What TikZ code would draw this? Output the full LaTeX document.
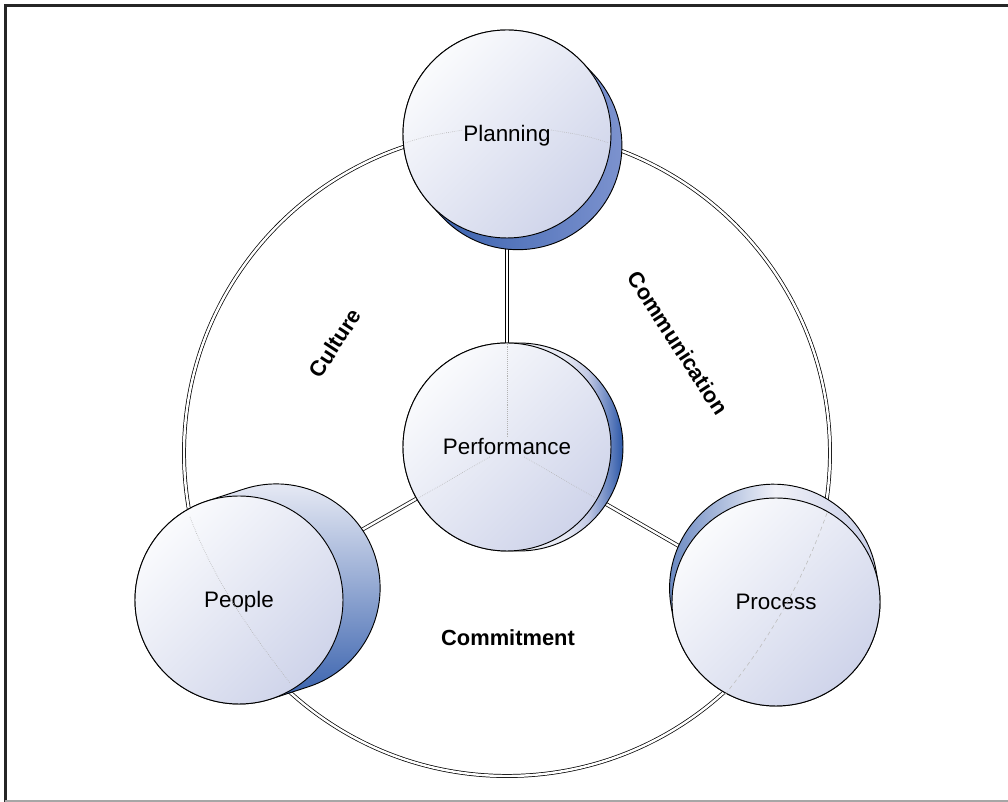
\documentclass[tikz,border=0pt]{standalone}
\usepackage{fontspec}
\setmainfont{Liberation Sans}
\usetikzlibrary{calc}
\definecolor{fr1}{HTML}{FAFBFD}
\definecolor{fr2}{HTML}{CFD4EA}
\definecolor{dblue}{HTML}{2B57A8}
\definecolor{mblue}{HTML}{8095D0}
\definecolor{lav}{HTML}{E6E9F4}
\definecolor{lav2}{HTML}{C3CAE5}
\definecolor{pale}{HTML}{F0F1F8}
\pgfdeclarelayer{background}
\pgfsetlayers{background,main}
\pgfdeclarehorizontalshading{perfsh}{100bp}{color(0bp)=(white); color(25bp)=(white); color(62bp)=(lav); color(67bp)=(lav2); color(75bp)=(dblue); color(100bp)=(dblue)}
\newcommand\cylsh[4]{%
  \shadedraw[sh,#4] ($(#1)+({#2+90}:104)$) -- ($(#1)+(#2:#3)+({#2+90}:104)$)
    arc[start angle={#2+90}, end angle={#2-90}, radius=104]
    -- ($(#1)+({#2-90}:104)$)
    arc[start angle={#2-90}, end angle={#2-270}, radius=104] -- cycle;}
\begin{document}
\begin{tikzpicture}[x=0.75pt,y=0.75pt,
  dbl/.style={draw=black, line width=0.55pt, double=white, double distance=1.8pt},
  front/.style={circle, draw=black, line width=0.7pt, minimum size=156pt, inner sep=0pt,
    top color=fr1, bottom color=fr2, shading angle=45,
    font=\fontsize{16.8}{20}\selectfont, text height=12pt, text depth=0pt},
  sh/.style={draw=black, line width=0.7pt},
  dotl/.style={draw=gray!60, densely dotted, line width=0.45pt},
  lbl/.style={font=\fontsize{16.4}{20}\selectfont\bfseries, inner sep=0pt}]
\useasboundingbox (0,0) rectangle (1008,802);
% frame
\draw[black!85, line width=2.2pt] (1008,796.5) -- (5.5,796.5) -- (5.5,0);
\draw[gray!70, line width=1.4pt] (5,1) -- (1008,1);
% ring
\node[dbl, circle, minimum size=484.5pt, inner sep=0pt] (ring) at (507,349) {};
% centres
\coordinate (cplan) at (507,668);
\coordinate (cperf) at (507,355);
\coordinate (cppl) at (239,202);
\coordinate (cproc) at (776,200);
% Planning
\cylsh{cplan}{-47}{16}{left color=dblue, right color=mblue}
\node[front] (plan) at (cplan) {Planning};
\draw[dotl] ($(cplan)+(-102,-9)$) .. controls ($(cplan)+(-80,-2)$) .. ($(cplan)+(-44,4)$);
\draw[dotl] ($(cplan)+(44,4)$) .. controls ($(cplan)+(80,-2)$) .. ($(cplan)+(102,-9)$);
% Performance
\cylsh{cperf}{0}{12}{shading=perfsh}
\node[front] (perf) at (cperf) {Performance};
\draw[dotl] ($(cperf)+(0,10)$) -- ($(cperf)+(0,103)$);
\draw[dotl] ($(cperf)+(210:20)$) -- ($(cperf)+(210:102)$);
\draw[dotl] ($(cperf)+(330:20)$) -- ($(cperf)+(330:102)$);
% People
\cylsh{cppl}{18}{39}{top color=pale, bottom color=dblue}
\node[front] (ppl) at (cppl) {People};
\draw[dotl] ($(cppl)+(-49,83)$) .. controls ($(cppl)+(-25,20)$) and ($(cppl)+(10,-30)$) .. ($(cppl)+(51,-83)$);
% Process
\cylsh{cproc}{100}{14}{left color=dblue!75!white, right color=lav2, middle color=pale}
\node[front] (proc) at (cproc) {Process};
\draw[draw=gray!50, dash pattern=on 3pt off 2.5pt, line width=0.45pt] ($(cproc)+(51,89)$) .. controls ($(cproc)+(30,30)$) and ($(cproc)+(0,-30)$) .. ($(cproc)+(-53,-95)$);
% connectors
\begin{pgfonlayer}{background}
\draw[dbl] (perf) -- (plan);
\draw[dbl] (perf) -- (ppl);
\draw[dbl] (perf) -- (proc);
\end{pgfonlayer}
% labels
\node[lbl, rotate=57] (culture) at (335,459) {Culture};
\node[lbl, rotate=-57] (comm) at (678,459) {Communication};
\node[lbl] (commit) at (508,164) {Commitment};
\end{tikzpicture}
\end{document}
